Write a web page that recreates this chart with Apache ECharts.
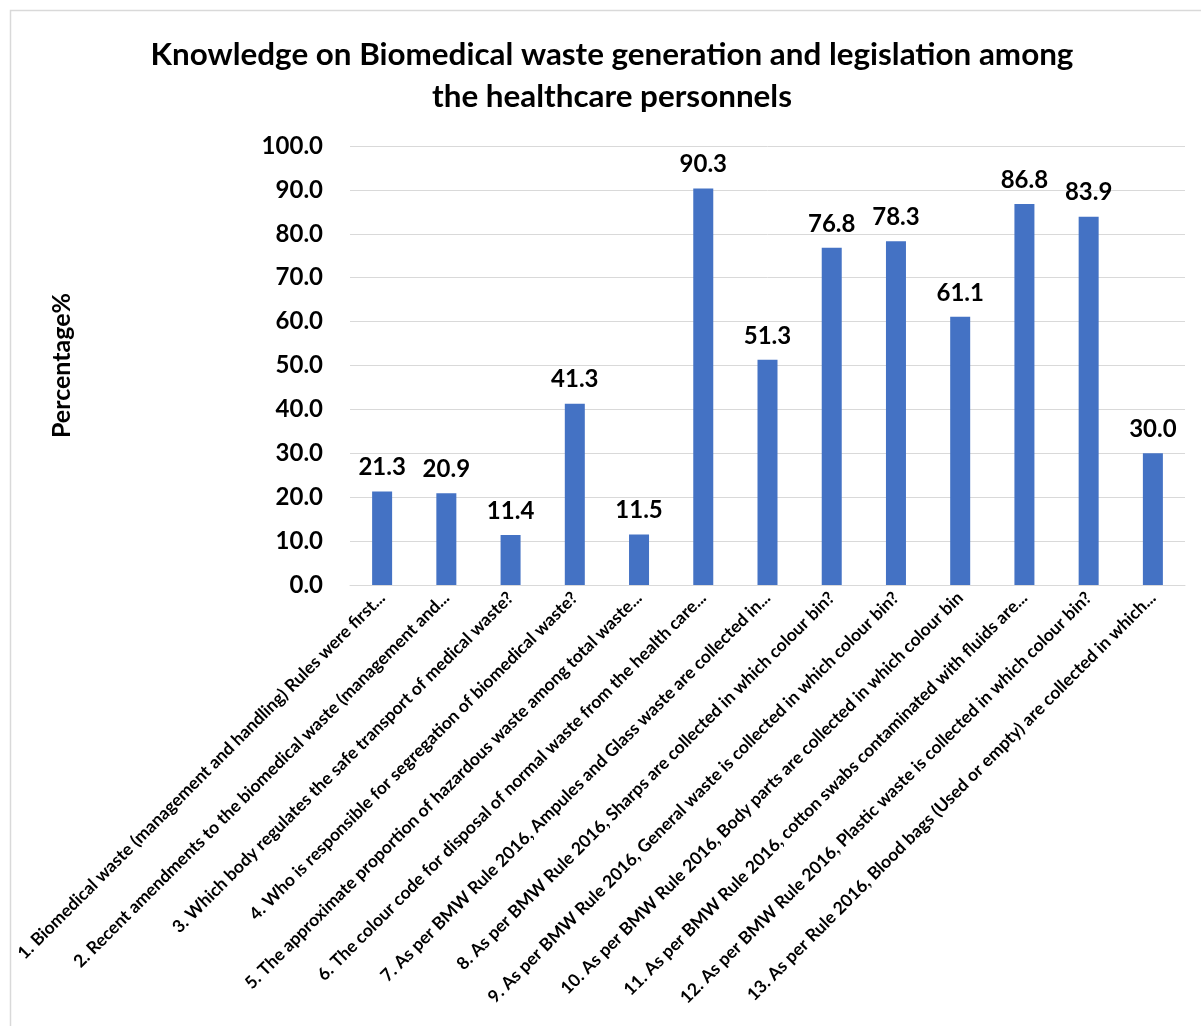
<!DOCTYPE html>
<html>
<head>
<meta charset="utf-8">
<script src="https://cdn.jsdelivr.net/npm/echarts@6/dist/echarts.min.js"></script>
<style>
html,body{margin:0;padding:0;background:#fff;}
#main{width:1201px;height:1026px;}
</style>
</head>
<body>
<div id="main"></div>
<script>
const titleText = "Knowledge on Biomedical waste generation and legislation among\nthe healthcare personnels";
const yAxisName = "Percentage%";
const categories = [
  "1. Biomedical waste (management and handling) Rules were first...",
  "2. Recent amendments to the biomedical waste (management and...",
  "3. Which body regulates the safe transport of medical waste?",
  "4. Who is responsible for segregation of biomedical waste?",
  "5. The approximate proportion of hazardous waste among total waste...",
  "6. The colour code for disposal of normal waste from the health care...",
  "7. As per BMW Rule 2016, Ampules and Glass waste are collected in...",
  "8. As per BMW Rule 2016, Sharps are collected in which colour bin?",
  "9. As per BMW Rule 2016, General waste is collected in which colour bin?",
  "10. As per BMW Rule 2016, Body parts are collected in which colour bin",
  "11. As per BMW Rule 2016, cotton swabs contaminated with fluids are...",
  "12. As per BMW Rule 2016, Plastic waste is collected in which colour bin?",
  "13. As per Rule 2016, Blood bags (Used or empty) are collected in which..."
];
const percentages = [21.3, 20.9, 11.4, 41.3, 11.5, 90.3, 51.3, 76.8, 78.3, 61.1, 86.8, 83.9, 30.0];
const yTicks = {min: 0, max: 100, interval: 10};

const FONT = 'Lato';
const chart = echarts.init(document.getElementById('main'));
chart.setOption({
  animation: false,
  backgroundColor: '#fff',
  graphic: [{
    type: 'rect', silent: true,
    shape: {x: 10.5, y: 10.5, width: 1200, height: 1040},
    style: {fill: 'none', stroke: '#d9d9d9', lineWidth: 1.5}
  }],
  title: {
    text: titleText,
    left: 607, top: 29, textAlign: 'center',
    textStyle: {fontFamily: FONT, fontWeight: 'bold', fontSize: 31.4, color: '#000', lineHeight: 42}
  },
  grid: {left: 350, right: 16, top: 146, bottom: 441, containLabel: false},
  xAxis: {
    type: 'category', data: categories,
    axisLine: {show: true, lineStyle: {color: '#d9d9d9', width: 1}},
    axisTick: {show: false},
    axisLabel: {interval: 0, rotate: 45, margin: 10, fontFamily: FONT, fontWeight: 'bold', fontSize: 17.5, color: '#000'}
  },
  yAxis: {
    type: 'value', min: yTicks.min, max: yTicks.max, interval: yTicks.interval,
    name: yAxisName, nameLocation: 'middle', nameGap: 276, nameRotate: 90,
    nameTextStyle: {fontFamily: FONT, fontWeight: 'bold', fontSize: 25, color: '#000'},
    axisLine: {show: false}, axisTick: {show: false},
    splitLine: {lineStyle: {color: '#d9d9d9', width: 1}},
    axisLabel: {margin: 27, fontFamily: FONT, fontWeight: 'bold', fontSize: 24, color: '#000',
      formatter: v => v.toFixed(1)}
  },
  series: [{
    type: 'bar', data: percentages, barWidth: 20,
    itemStyle: {color: '#4472C4'},
    label: {show: true, position: 'top', distance: 12, fontFamily: FONT, fontWeight: 'bold', fontSize: 24, color: '#000',
      formatter: p => p.value.toFixed(1)}
  }]
});
</script>
</body>
</html>
